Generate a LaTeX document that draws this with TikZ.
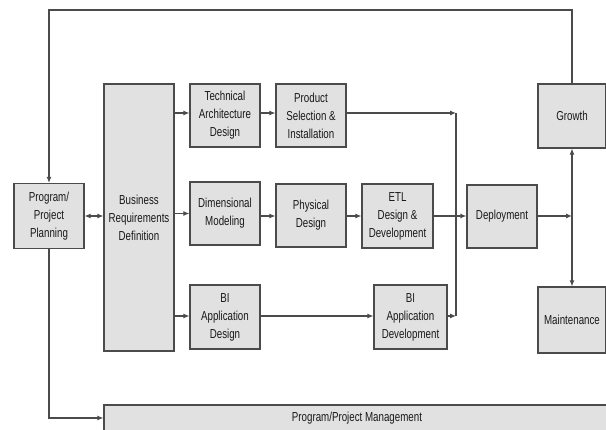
\documentclass[tikz,border=0pt]{standalone}
\usepackage{fontspec}
\setmainfont{Liberation Sans}[FakeStretch=0.75]
\usetikzlibrary{arrows.meta}
\definecolor{boxfill}{RGB}{225,225,225}
\definecolor{edge}{RGB}{75,75,75}
\definecolor{txt}{RGB}{25,25,25}
\begin{document}
\begin{tikzpicture}[x=1pt,y=-1pt,
  box/.style={draw=edge,line width=1.2pt,fill=boxfill,align=center,inner sep=1pt,
    font=\fontsize{13}{18}\selectfont,text=txt},
  arr/.style={draw=edge,line width=1.1pt,-{Latex[length=6pt,width=5pt]}},
  arrtwo/.style={draw=edge,line width=1.1pt,{Latex[length=6pt,width=5pt]}-{Latex[length=6pt,width=5pt]}},
  ln/.style={draw=edge,line width=1.1pt}]
\useasboundingbox (0,0) rectangle (606,430);
\node[box,minimum width=70pt,minimum height=65pt] (plan) at (49,216) {Program/\\Project\\Planning};
\node[box,minimum width=70pt,minimum height=267pt] (brd) at (139,217.5) {Business\\Requirements\\Definition};
\node[box,minimum width=70pt,minimum height=63pt] (tad) at (225,115.5) {Technical\\Architecture\\Design};
\node[box,minimum width=70pt,minimum height=63pt] (psi) at (311,115.5) {Product\\Selection \&\\Installation};
\node[box,minimum width=70pt,minimum height=63pt] (dm) at (225,213.5) {Dimensional\\Modeling};
\node[box,minimum width=70pt,minimum height=63pt] (pd) at (311,215.5) {Physical\\Design};
\node[box,minimum width=71pt,minimum height=64pt] (etl) at (397.5,216) {ETL\\Design \&\\Development};
\node[box,minimum width=70pt,minimum height=63pt] (dep) at (502,216.5) {Deployment};
\node[box,minimum width=68pt,minimum height=64pt] (growth) at (572,116) {Growth};
\node[box,minimum width=68pt,minimum height=66pt] (maint) at (572,320) {Maintenance};
\node[box,minimum width=70pt,minimum height=64pt] (bad) at (225,317) {BI\\Application\\Design};
\node[box,minimum width=73pt,minimum height=64pt] (bdev) at (410.5,317) {BI\\Application\\Development};
\node[box,minimum width=506pt,minimum height=26pt] (ppm) at (357,418) {Program/Project Management};
\coordinate (topc) at (49,10);
\coordinate (j1) at (456,113);
\coordinate (j2) at (456,316);
\coordinate (j3) at (572,216);
\draw[arr] (growth.north) |- (topc) -- (plan.north);
\draw[arrtwo] (plan.east) -- (plan.east -| brd.west);
\draw[arr] (brd.east |- j1) -- (brd.east |- j1 -| tad.west);
\draw[arr] (brd.east |- dm) -- (dm.west);
\draw[arr] (brd.east |- j2) -- (brd.east |- j2 -| bad.west);
\draw[arr] (tad.east |- j1) -- (tad.east |- j1 -| psi.west);
\draw[arr] (psi.east |- j1) -- (j1);
\draw[ln] (j1) -- (j2);
\draw[arr] (bdev.east |- j2) -- (j2);
\draw[arr] (bad.east |- j2) -- (bad.east |- j2 -| bdev.west);
\draw[arr] (dm.east |- j3) -- (dm.east |- j3 -| pd.west);
\draw[arr] (pd.east |- j3) -- (pd.east |- j3 -| etl.west);
\draw[arr] (etl.east |- j3) -- (etl.east |- j3 -| dep.west);
\draw[arr] (dep.east |- j3) -- (j3);
\draw[arr] (j3) -- (growth.south);
\draw[arr] (j3) -- (maint.north);
\draw[arr] (plan.south) |- (ppm.west);
\end{tikzpicture}
\end{document}
